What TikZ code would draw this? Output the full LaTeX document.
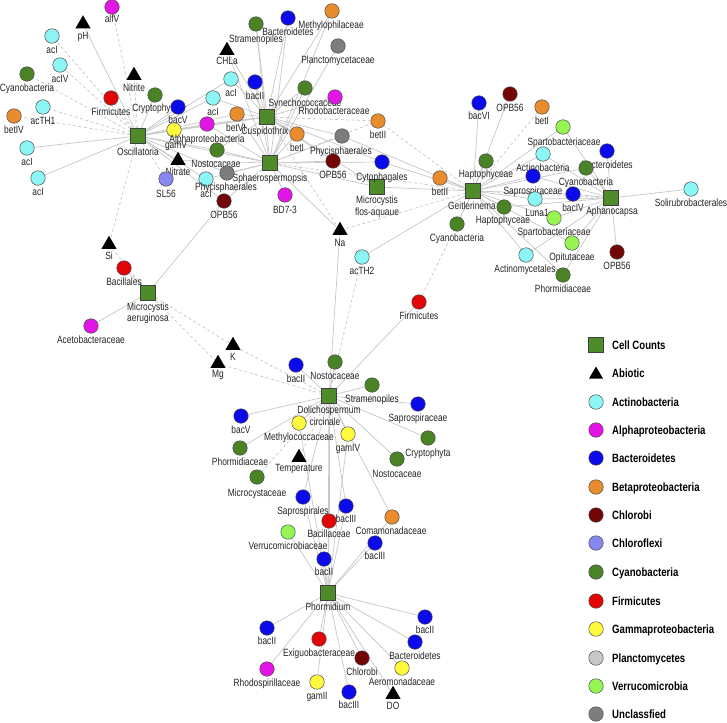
\documentclass[tikz,border=0pt]{standalone}
\usepackage{fontspec}
\setmainfont{Liberation Sans}[FakeStretch=0.8]
\usetikzlibrary{shapes.geometric}
\pgfdeclarelayer{bg}
\pgfsetlayers{bg,main}
\definecolor{cc}{RGB}{79,138,43}
\definecolor{cyano}{RGB}{74,130,38}
\definecolor{actino}{RGB}{140,245,245}
\definecolor{alphac}{RGB}{226,20,230}
\definecolor{bact}{RGB}{10,10,235}
\definecolor{beta}{RGB}{232,140,45}
\definecolor{chlorobi}{RGB}{115,5,5}
\definecolor{chlx}{RGB}{135,135,240}
\definecolor{firm}{RGB}{225,5,5}
\definecolor{gammac}{RGB}{255,250,60}
\definecolor{planc}{RGB}{200,200,200}
\definecolor{verr}{RGB}{150,245,80}
\definecolor{uncl}{RGB}{125,125,125}
\newcommand{\NC}[7]{\node[cir,fill=#2] (#1) at (#3,#4) {}; \node[lab] (#1l) at (#5,{#6+3.5}) {#7};}
\newcommand{\LG}[4]{\node[#2] (lg#1) at (596,#3) {}; \node[lgt] (lt#1) at (612,{#3+4.3}) {#4};}
\begin{document}
\begin{tikzpicture}[x=1pt,y=-1pt,
  cir/.style={circle, draw=black!70, line width=0.5pt, minimum size=14.5pt, inner sep=0pt},
  sq/.style={rectangle, draw=black!75, fill=cc, minimum size=15pt, inner sep=0pt, line width=0.5pt},
  tri/.style={regular polygon, regular polygon sides=3, fill=black, minimum size=17.5pt, inner sep=0pt},
  lab/.style={anchor=base, font=\fontsize{10.5}{12}\selectfont, text=black!85, inner sep=0pt},
  lgt/.style={anchor=base west, font=\fontsize{12}{14}\selectfont\bfseries, text=black, inner sep=0pt},
  ed/.style={draw=black!22, line width=0.7pt},
  dsh/.style={draw=black!22, line width=0.7pt, dash pattern=on 3pt off 2.5pt}]
\useasboundingbox (0,0) rectangle (727,722);

% ---- cell counts (squares)
\node[sq] (osc) at (138,136) {}; \node[lab] (oscl) at (138,155.5) {Oscillatoria};
\node[sq] (cus) at (267,117) {}; \node[lab] (cusl) at (265,134.5) {Cuspidothrix};
\node[sq] (sph) at (270,163) {}; \node[lab] (sphl) at (270,181.5) {Sphaerospermopsis};
\node[sq] (mfa) at (377,187) {}; \node[lab] (mfal1) at (377,203.5) {Microcystis}; \node[lab] (mfal2) at (377,215.5) {flos-aquaue};
\node[sq] (gei) at (473,191) {}; \node[lab] (geil) at (472,209.5) {Geitlerinema};
\node[sq] (aph) at (611,198) {}; \node[lab] (aphl) at (612,214.5) {Aphanocapsa};
\node[sq] (mae) at (148,293) {}; \node[lab] (mael1) at (148,310.5) {Microcystis}; \node[lab] (mael2) at (148,321.5) {aeruginosa};
\node[sq] (dol) at (329,396) {}; \node[lab] (doll1) at (329,413.5) {Dolichospermum}; \node[lab] (doll2) at (325,425.5) {circinale};
\node[sq] (pho) at (328,593) {}; \node[lab] (phol) at (328,610.5) {Phormidium};

% ---- abiotic (triangles)
\node[tri] (pH) at (83,24) {}; \node[lab] (pHl) at (83,39.5) {pH};
\node[tri] (nitrite) at (134,75.5) {}; \node[lab] (nitritel) at (134,91.5) {Nitrite};
\node[tri] (nitrate) at (178,160.5) {}; \node[lab] (nitratel) at (178,175.5) {Nitrate};
\node[tri] (chla) at (227,50.5) {}; \node[lab] (chlal) at (227,64.5) {CHLa};
\node[tri] (si) at (109,244.5) {}; \node[lab] (sil) at (109,259.5) {Si};
\node[tri] (kk) at (233,345.5) {}; \node[lab] (kkl) at (233,360.5) {K};
\node[tri] (mg) at (218,363.5) {}; \node[lab] (mgl) at (218,377.5) {Mg};
\node[tri] (na) at (340,230.5) {}; \node[lab] (nal) at (340,246.5) {Na};
\node[tri] (temp) at (299,457.5) {}; \node[lab] (templ) at (299,471.5) {Temperature};
\node[tri] (dox) at (393,694.5) {}; \node[lab] (doxl) at (393,709.5) {DO};

% ---- Oscillatoria neighbourhood
\NC{alfV}{alphac}{112}{7}{112}{19}{alfV}
\NC{acIa}{actino}{52}{36}{52}{50}{acI}
\NC{acIV}{actino}{60}{65}{60}{79}{acIV}
\NC{cyL}{cyano}{27}{74}{27}{88}{Cyanobacteria}
\NC{acTH1}{actino}{43}{107}{43}{121}{acTH1}
\NC{betIV}{beta}{14}{116}{14}{130}{betIV}
\NC{acIb}{actino}{27}{148}{27}{162}{acI}
\NC{acIc}{actino}{38}{178}{38}{192}{acI}
\NC{firL}{firm}{111}{98}{111}{112}{Firmicutes}
\NC{crypL}{cyano}{155}{95}{155}{108}{Cryptophyta}
\NC{bacV}{bact}{178}{107}{178}{120}{bacV}
\NC{gamV}{gammac}{174}{130}{176}{145}{gamV}
\NC{alpha}{alphac}{207}{124}{207}{139}{Alphaproteobacteria}
\NC{nostT}{cyano}{217}{150}{216}{164}{Nostocaceae}
\NC{sl56}{chlx}{166}{179}{166}{194}{SL56}
\NC{acId}{actino}{206}{179}{206}{194}{acI}
\NC{phyL}{uncl}{227}{173}{226}{187}{Phycisphaerales}
\NC{opbL}{chlorobi}{224}{201}{224}{215}{OPB56}

% ---- Cuspidothrix / Sphaerospermopsis neighbourhood
\NC{acIe}{actino}{231}{79}{231}{93}{acI}
\NC{bacII}{bact}{255}{82}{255}{96}{bacII}
\NC{acIf}{actino}{213}{98}{213}{112}{acI}
\NC{betVI}{beta}{237}{114}{236}{128}{betVI}
\NC{syn}{cyano}{305}{88}{305}{103}{Synechococcaceae}
\NC{rho}{alphac}{335}{97}{334}{111}{Rhodobacteraceae}
\NC{strT}{cyano}{256}{24}{256}{39}{Stramenopiles}
\NC{bacT}{bact}{288}{18}{288}{32}{Bacteroidetes}
\NC{mth}{beta}{332}{11}{331}{25}{Methylophilaceae}
\NC{pla}{uncl}{338}{46}{338}{60}{Planctomycetaceae}
\NC{betI}{beta}{297}{134}{297}{148}{betI}
\NC{betIIa}{beta}{378}{121}{378}{135}{betII}
\NC{phyM}{uncl}{342}{136}{341}{151}{Phycisphaerales}
\NC{opbM}{chlorobi}{333}{161}{333}{175}{OPB56}
\NC{cyt}{bact}{382}{162}{382}{177}{Cytophagales}
\NC{bd7}{alphac}{285}{195}{285}{210}{BD7-3}
\NC{betIIb}{beta}{440}{178}{440}{192}{betII}
\NC{acTH2}{actino}{362}{257}{362}{271}{acTH2}

% ---- Geitlerinema / Aphanocapsa neighbourhood
\NC{bacVI}{bact}{479}{103}{479}{116}{bacVI}
\NC{opbR}{chlorobi}{510}{94}{510}{108}{OPB56}
\NC{betIb}{beta}{542}{107}{542}{121}{betI}
\NC{spT}{verr}{563}{127}{564}{142}{Spartobacteriaceae}
\NC{hapT}{cyano}{486}{161}{486}{174}{Haptophyceae}
\NC{actB}{actino}{543}{154}{543}{168}{Actinobacteria}
\NC{bacR}{bact}{607}{151}{607}{165}{Bacteroidetes}
\NC{sapR}{bact}{533}{176}{533}{191}{Saprospiraceae}
\NC{cyR}{cyano}{586}{168}{586}{182}{Cyanobacteria}
\NC{cyG}{cyano}{457}{224}{457}{238}{Cyanobacteria}
\NC{hapB}{cyano}{504}{207}{503}{220}{Haptophyceae}
\NC{luna}{actino}{535}{199}{537}{213}{Luna1}
\NC{bacIV}{bact}{573}{194}{573}{208}{bacIV}
\NC{spB}{verr}{554}{218}{554}{232}{Spartobacteriaceae}
\NC{opit}{verr}{572}{243}{572}{257}{Opitutaceae}
\NC{actM}{actino}{526}{255}{525}{269}{Actinomycetales}
\NC{opbA}{chlorobi}{617}{252}{617}{266}{OPB56}
\NC{phmR}{cyano}{563}{275}{563}{289}{Phormidiaceae}
\NC{soli}{actino}{691}{189}{691}{203}{Solirubrobacterales}
\NC{firR}{firm}{419}{302}{419}{316}{Firmicutes}

% ---- Microcystis aeruginosa neighbourhood
\NC{bacl}{firm}{124}{268}{124}{282}{Bacillales}
\NC{aceto}{alphac}{91}{326}{91}{340}{Acetobacteraceae}

% ---- Dolichospermum neighbourhood
\NC{bacIId}{bact}{296}{365}{296}{379}{bacII}
\NC{nostD}{cyano}{335}{362}{335}{376}{Nostocaceae}
\NC{strD}{cyano}{372}{385}{372}{399}{Stramenopiles}
\NC{sapD}{bact}{418}{404}{418}{418}{Saprospiraceae}
\NC{bacVd}{bact}{241}{416}{241}{430}{bacV}
\NC{mcc}{gammac}{299}{423}{299}{437}{Methylococcaceae}
\NC{gamIV}{gammac}{348}{434}{348}{448}{gamIV}
\NC{crypD}{cyano}{428}{438}{428}{453}{Cryptophyta}
\NC{phmD}{cyano}{240}{448}{240}{462}{Phormidiaceae}
\NC{nostDb}{cyano}{397}{459}{397}{474}{Nostocaceae}
\NC{mcy}{cyano}{257}{477}{257}{493}{Microcystaceae}
\NC{sapl}{bact}{303}{497}{303}{511}{Saprospirales}
\NC{bacIIIa}{bact}{346}{506}{346}{519}{bacIII}
\NC{coma}{beta}{392}{517}{391}{531}{Comamonadaceae}
\NC{bacil}{firm}{329}{521}{329}{534}{Bacillaceae}
\NC{verrc}{verr}{288}{532}{288}{546}{Verrucomicrobiaceae}
\NC{bacIIIb}{bact}{375}{543}{375}{556}{bacIII}
\NC{bacIIp}{bact}{324}{559}{324}{572}{bacII}

% ---- Phormidium neighbourhood
\NC{bacIIr}{bact}{425}{617}{425}{630}{bacII}
\NC{bacIIl}{bact}{267}{628}{267}{641}{bacII}
\NC{exi}{firm}{319}{639}{319}{653}{Exiguobacteraceae}
\NC{bactP}{bact}{415}{642}{415}{656}{Bacteroidetes}
\NC{chl}{chlorobi}{362}{658}{362}{672}{Chlorobi}
\NC{aer}{gammac}{402}{668}{402}{682}{Aeromonadaceae}
\NC{rsp}{alphac}{267}{669}{267}{683}{Rhodospirillaceae}
\NC{gamII}{gammac}{317}{682}{317}{696}{gamII}
\NC{bacIIIc}{bact}{349}{692}{349}{705}{bacIII}

% ---- edges
\begin{pgfonlayer}{bg}
\fill[white] (0,0) rectangle (727,722);
\foreach \a/\b in {osc/pH, osc/acIb, osc/acIc, osc/crypL, osc/bacV, osc/gamV, osc/alpha, osc/nostT, osc/acIe, osc/acIf, osc/nitrate, osc/acId, osc/phyL, osc/opbL, osc/betVI, osc/cus, osc/sph,
 cus/strT, cus/bacT, cus/mth, cus/acIe, cus/bacII, cus/acIf, cus/betVI, cus/syn, cus/rho, cus/betI, cus/phyM, cus/opbM, cus/cyt, cus/mfa, cus/alpha, cus/gamV, cus/chla, cus/nostT,
 sph/chla, sph/strT, sph/bacT, sph/pla, sph/syn, sph/bacII, sph/betI, sph/phyM, sph/opbM, sph/cyt, sph/mfa, sph/bd7, sph/nostT, sph/phyL, sph/acId, sph/opbL, sph/nitrate, sph/alpha, sph/na, sph/mth, sph/betVI,
 gei/bacVI, gei/opbR, gei/spT, gei/hapT, gei/betIIb, gei/cyG, gei/hapB, gei/actB, gei/sapR, gei/luna, gei/bacIV, gei/spB, gei/opit, gei/actM, gei/phmR, gei/acTH2, gei/mfa, gei/cyt, gei/phyM, gei/cyR,
 aph/spT, aph/bacR, aph/cyR, aph/actB, aph/sapR, aph/bacIV, aph/luna, aph/spB, aph/opit, aph/actM, aph/phmR, aph/opbA, aph/soli, aph/hapB,
 mae/opbL, mae/bacl, mae/aceto,
 dol/bacIId, dol/nostD, dol/strD, dol/sapD, dol/bacVd, dol/mcc, dol/gamIV, dol/crypD, dol/phmD, dol/nostDb, dol/sapl, dol/bacIIIa, dol/coma, dol/bacil, dol/na, dol/firR, dol/pho,
 pho/verrc, pho/sapl, pho/bacIIIa, pho/bacil, pho/coma, pho/bacIIIb, pho/bacIIp, pho/bacIIr, pho/bacIIl, pho/exi, pho/bactP, pho/chl, pho/aer, pho/rsp, pho/gamII, pho/bacIIIc, pho/dox, pho/mcc, pho/gamIV}
 \draw[ed] (\a) -- (\b);
\foreach \a/\b in {osc/alfV, osc/acIa, osc/acIV, osc/cyL, osc/acTH1, osc/betIV, osc/firL, osc/nitrite, osc/si, osc/sl56,
 cus/betIIa, cus/na, sph/betIIa, sph/gei, gei/betIb, gei/na, gei/betIIa, gei/firR, gei/aph,
 mae/si, mae/kk, mae/mg, dol/kk, dol/mg, dol/acTH2, dol/mcy, dol/temp}
 \draw[dsh] (\a) -- (\b);
\end{pgfonlayer}

% ---- legend
\LG{1}{sq}{345}{Cell Counts}
\node[tri,minimum size=16pt] (lg2) at (596,374.5) {}; \node[lgt] (lt2) at (612,{373+4.3}) {Abiotic};
\LG{3}{cir,fill=actino}{402}{Actinobacteria}
\LG{4}{cir,fill=alphac}{430}{Alphaproteobacteria}
\LG{5}{cir,fill=bact}{458}{Bacteroidetes}
\LG{6}{cir,fill=beta}{487}{Betaproteobacteria}
\LG{7}{cir,fill=chlorobi}{515}{Chlorobi}
\LG{8}{cir,fill=chlx}{543}{Chloroflexi}
\LG{9}{cir,fill=cyano}{572}{Cyanobacteria}
\LG{10}{cir,fill=firm}{601}{Firmicutes}
\LG{11}{cir,fill=gammac}{629}{Gammaproteobacteria}
\LG{12}{cir,fill=planc}{658}{Planctomycetes}
\LG{13}{cir,fill=verr}{686}{Verrucomicrobia}
\LG{14}{cir,fill=uncl}{714}{Unclassfied}
\end{tikzpicture}
\end{document}
